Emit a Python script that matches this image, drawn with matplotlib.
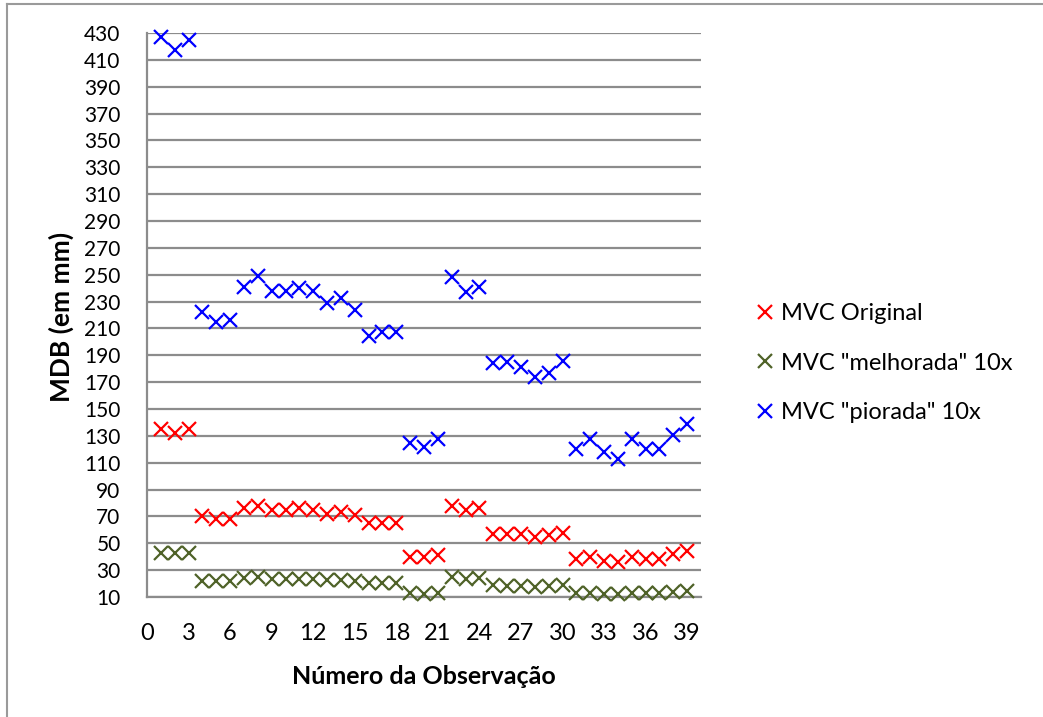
import matplotlib
matplotlib.use("Agg")
import matplotlib.pyplot as plt
from matplotlib.lines import Line2D

plt.rcParams['font.family'] = ['Lato', 'DejaVu Sans']

observacoes = list(range(1, 40))

mvc_original = [135, 132, 135, 70, 68, 68, 76, 78, 75, 75, 76, 75, 72, 73, 71,
                65, 65, 65, 40, 40, 41, 78, 75, 76, 57, 57, 57, 55, 56, 58,
                38, 40, 37, 36, 40, 38, 38, 42, 44]

mvc_melhorada = [42.5, 42.5, 42.5, 22, 22, 22, 24, 24.7, 23.4, 23.4, 23.4, 23.4, 22.7, 22.7, 22,
                 20.7, 20.7, 20.7, 12.7, 12.2, 12.7, 25, 23.4, 24, 19, 18.5, 18.3, 17.7, 18.3, 18.8,
                 12.7, 12.7, 12.2, 11.9, 13.2, 12.7, 12.7, 13.7, 14.5]

mvc_piorada = [427, 417, 425, 222, 215, 216, 241, 249, 238, 238, 240, 238, 229, 233, 224,
               204, 207, 207, 125, 122, 128, 248, 237, 241, 184, 185, 181, 174, 177, 186,
               120, 128, 118, 113, 128, 120, 120, 131, 139]

legendas = ['MVC Original', 'MVC "melhorada" 10x', 'MVC "piorada" 10x']
cores = ['#FF0000', '#4F6228', '#0000FF']

y_ticks = list(range(10, 431, 20))
x_ticks = list(range(0, 40, 3))

W, H = 1043, 717
fig = plt.figure(figsize=(W / 100, H / 100), dpi=100)
ax = fig.add_axes([147 / W, (H - 597) / H, (701 - 147) / W, (597 - 33) / H])

grid_color = '#8C8C8C'
for yt in y_ticks:
    ax.axhline(yt, color=grid_color, lw=1.6, zorder=1)

for serie, cor in zip([mvc_original, mvc_melhorada, mvc_piorada], cores):
    ax.plot(observacoes, serie, linestyle='none', marker='x', markersize=10.5,
            markeredgewidth=1.6, color=cor, zorder=3, clip_on=False)

ax.set_xlim(0, 40)
ax.set_ylim(10, 430)
ax.set_yticks(y_ticks)
ax.set_xticks(x_ticks)
ax.tick_params(axis='both', length=0, colors='black')
ax.tick_params(axis='y', pad=19, labelsize=15)
ax.tick_params(axis='x', pad=19, labelsize=17)

for s in ['top', 'right']:
    ax.spines[s].set_visible(False)
for s in ['left', 'bottom']:
    ax.spines[s].set_color(grid_color)
    ax.spines[s].set_linewidth(1.6)

# axis titles
fig.text(424 / W, 1 - 677 / H, 'Número da Observação', fontsize=18, fontweight='bold',
         ha='center', va='center')
fig.text(61 / W, 1 - 317 / H, 'MDB (em mm)', fontsize=19, fontweight='bold',
         ha='center', va='center', rotation=90)

handles = [Line2D([], [], linestyle='none', marker='x', markersize=10.5,
                  markeredgewidth=1.6, color=c) for c in cores]
fig.legend(handles, legendas, loc='upper left', bbox_to_anchor=(741 / W, 1 - 291 / H),
           frameon=False, fontsize=17, handlelength=1.0, handletextpad=0.2,
           labelspacing=1.22, borderpad=0)

# outer frame lines (top and left)
fig.add_artist(Line2D([7 / W, 1], [1 - 4 / H, 1 - 4 / H], color='#9A9A9A', lw=1.5))
fig.add_artist(Line2D([7 / W, 7 / W], [0, 1 - 4 / H], color='#9A9A9A', lw=1.5))

fig.savefig('out.png', dpi=100)
